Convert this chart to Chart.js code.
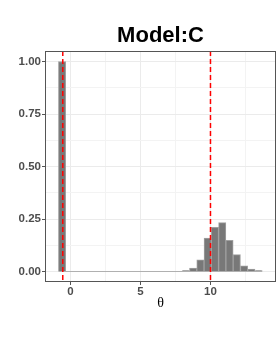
<!DOCTYPE html>
<html>
<head>
<meta charset="utf-8">
<script src="https://cdn.jsdelivr.net/npm/chart.js@4"></script>
<style>
  html, body { margin: 0; padding: 0; background: #ffffff; }
  #wrap { width: 280px; height: 340px; position: relative; }
</style>
</head>
<body>
<div id="wrap"><canvas id="c" width="280" height="340"></canvas></div>
<script>
// ---- data ----
const chartTitle = "Model:C";
const xAxisTitle = "θ";
const binWidth = 0.52;
const binCenters = [-0.60, -0.08, 0.44, 0.96, 1.48, 2.00, 2.52, 3.04, 3.56, 4.08,
                    4.60, 5.12, 5.64, 6.16, 6.68, 7.20, 7.72, 8.24, 8.76, 9.28,
                    9.80, 10.32, 10.84, 11.36, 11.88, 12.40, 12.92, 13.44];
const binValues  = [1.00, 0, 0, 0, 0, 0, 0, 0, 0, 0,
                    0, 0, 0, 0, 0, 0, 0, 0.004, 0.016, 0.056,
                    0.159, 0.210, 0.233, 0.148, 0.080, 0.027, 0.011, 0.004];
const vlines = [-0.55, 10];
const xLimits = [-1.82, 14.68];
const yLimits = [-0.05, 1.05];
const xMajorTicks = [0, 5, 10];
const yMajorTicks = [0, 0.25, 0.5, 0.75, 1.0];

// ---- build ----
const barData = binCenters.map((c, i) => ({x: c, y: binValues[i]}));
const baseLine = [
  {x: binCenters[0] - binWidth / 2, y: 0},
  {x: binCenters[binCenters.length - 1] + binWidth / 2, y: 0}
];
const isMajor = (v, list) => list.some(m => Math.abs(m - v) < 1e-6);
const tickVal = ctx => (ctx && ctx.tick) ? ctx.tick.value : NaN;

const panelPlugin = {
  id: 'panel',
  afterDatasetsDraw(chart) {
    const {ctx, chartArea: a, scales: {x}} = chart;
    ctx.save();
    ctx.strokeStyle = '#ff0000';
    ctx.lineWidth = 1.5;
    ctx.setLineDash([5, 3]);
    vlines.forEach(v => {
      const px = x.getPixelForValue(v);
      ctx.beginPath();
      ctx.moveTo(px, a.top);
      ctx.lineTo(px, a.bottom);
      ctx.stroke();
    });
    ctx.restore();
  },
  afterDraw(chart) {
    const {ctx, chartArea: a} = chart;
    ctx.save();
    ctx.strokeStyle = '#555555';
    ctx.lineWidth = 1;
    ctx.strokeRect(Math.round(a.left) + 0.5, Math.round(a.top) + 0.5,
                   Math.round(a.right - a.left) - 1, Math.round(a.bottom - a.top) - 1);
    ctx.restore();
  }
};

const tickFont = {family: "'Liberation Sans', Arial, sans-serif", size: 11.5, weight: 'bold'};

new Chart(document.getElementById('c'), {
  data: {
    datasets: [
      {
        type: 'bar',
        data: barData,
        backgroundColor: '#787878',
        borderColor: '#a0a0a0',
        borderWidth: 1,
        barPercentage: 1,
        categoryPercentage: 1,
        order: 1
      },
      {
        type: 'line',
        data: baseLine,
        borderColor: '#b0b0b0',
        borderWidth: 1,
        pointRadius: 0,
        order: 2
      }
    ]
  },
  options: {
    responsive: false,
    animation: false,
    devicePixelRatio: 1,
    layout: {padding: {left: 0, right: 4, top: 0, bottom: 0}},
    plugins: {
      legend: {display: false},
      tooltip: {enabled: false},
      title: {
        display: true,
        text: chartTitle,
        fullSize: false,
        color: '#000000',
        font: {family: "'Liberation Sans', Arial, sans-serif", size: 22, weight: 'bold', lineHeight: 1.2},
        padding: {top: 22.8, bottom: 1.8}
      }
    },
    scales: {
      x: {
        type: 'linear',
        min: xLimits[0],
        max: xLimits[1],
        offset: false,
        border: {display: false},
        grid: {
          offset: false,
          color: ctx => isMajor(tickVal(ctx), xMajorTicks) ? '#ebebeb' : '#f3f3f3',
          tickColor: ctx => isMajor(tickVal(ctx), xMajorTicks) ? '#555555' : 'rgba(0,0,0,0)',
          tickLength: 3,
          lineWidth: 1
        },
        ticks: {
          stepSize: 2.5,
          includeBounds: false,
          autoSkip: false,
          maxRotation: 0,
          maxTicksLimit: 100,
          padding: 0,
          color: '#4d4d4d',
          font: tickFont,
          callback: v => isMajor(v, xMajorTicks) ? String(v) : ''
        },
        title: {
          display: true,
          text: xAxisTitle,
          color: '#000000',
          font: {family: "'Liberation Serif', 'DejaVu Serif', serif", size: 14, lineHeight: 1.2},
          padding: {top: 0, bottom: 28.6}
        },
        afterFit: s => { s.height = 58; }
      },
      y: {
        type: 'linear',
        min: yLimits[0],
        max: yLimits[1],
        border: {display: false},
        grid: {
          offset: false,
          color: ctx => isMajor(tickVal(ctx), yMajorTicks) ? '#ebebeb' : '#f3f3f3',
          tickColor: ctx => isMajor(tickVal(ctx), yMajorTicks) ? '#555555' : 'rgba(0,0,0,0)',
          tickLength: 3,
          lineWidth: 1
        },
        ticks: {
          stepSize: 0.125,
          includeBounds: false,
          autoSkip: false,
          maxTicksLimit: 100,
          padding: 1,
          color: '#4d4d4d',
          font: tickFont,
          callback: v => isMajor(v, yMajorTicks) ? v.toFixed(2) : ''
        },
        afterFit: s => { s.width = 45; }
      }
    }
  },
  plugins: [panelPlugin]
});
</script>
</body>
</html>
